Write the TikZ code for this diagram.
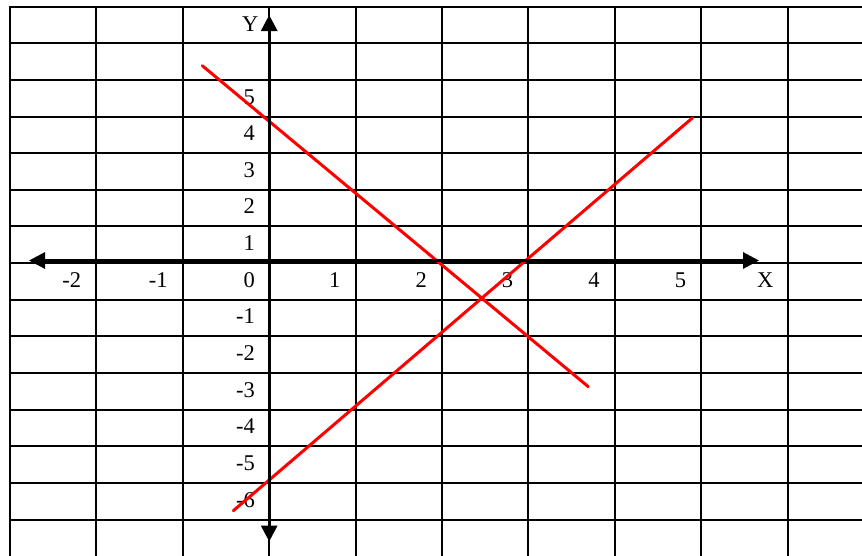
\documentclass[tikz,border=0pt]{standalone}
\usepackage{fontspec}
\setmainfont{Liberation Serif}
\usetikzlibrary{arrows.meta}
\begin{document}
\begin{tikzpicture}[x=1pt,y=-1pt,
  gridline/.style={line width=2pt,black},
  axisline/.style={line width=3pt,black,-{Triangle[length=16pt,width=16pt]}},
  redline/.style={line width=3pt,red,line cap=round},
  lab/.style={font=\fontsize{22.5}{24}\selectfont,inner sep=0pt,anchor=base east}]
\useasboundingbox (0,0) rectangle (862,555);
% grid
\foreach \k in {0,...,9}{
  \draw[gridline] ({10+86.4*\k},6.7) -- ({10+86.4*\k},556);
}
\foreach \k in {0,...,14}{
  \draw[gridline] (9,{6.7+36.63*\k}) -- (863,{6.7+36.63*\k});
}
% y labels (0 shared with x axis)
\foreach \v [count=\i from 2] in {5,4,3,2,1,0,-1,-2,-3,-4,-5,-6}{
  \node[lab] (ylab\i) at (255,{6.7+36.63*\i+36.63-12.5}) {\v};
}
% x labels
\foreach \v/\i in {-2/1,-1/2,1/4,2/5,3/6,4/7,5/8}{
  \node[lab] (xlab\i) at ({10+86.4*\i-15},{6.7+36.63*8-12.5}) {\v};
}
\node[lab] (xname) at ({10+86.4*9-14},{6.7+36.63*8-12.5}) {X};
\node[lab] (yname) at (258.5,31.5) {Y};
% red lines
\coordinate (a1) at (202.3,65.7);
\coordinate (a2) at (588.3,386.7);
\coordinate (b1) at (233.3,510.7);
\coordinate (b2) at (692.7,117.7);
\draw[redline] (a1) -- (a2);
\draw[redline] (b1) -- (b2);
% axes
\coordinate (o) at (269.2,260.5);
\coordinate (xl) at (29,260.5);
\coordinate (xr) at (759,260.5);
\coordinate (yt) at (269.2,15);
\coordinate (yb) at (269.2,541.5);
\draw[axisline] (o) -- (xr);
\draw[axisline] (o) -- (xl);
\draw[axisline] (o) -- (yt);
\draw[axisline] (o) -- (yb);
\end{tikzpicture}
\end{document}
